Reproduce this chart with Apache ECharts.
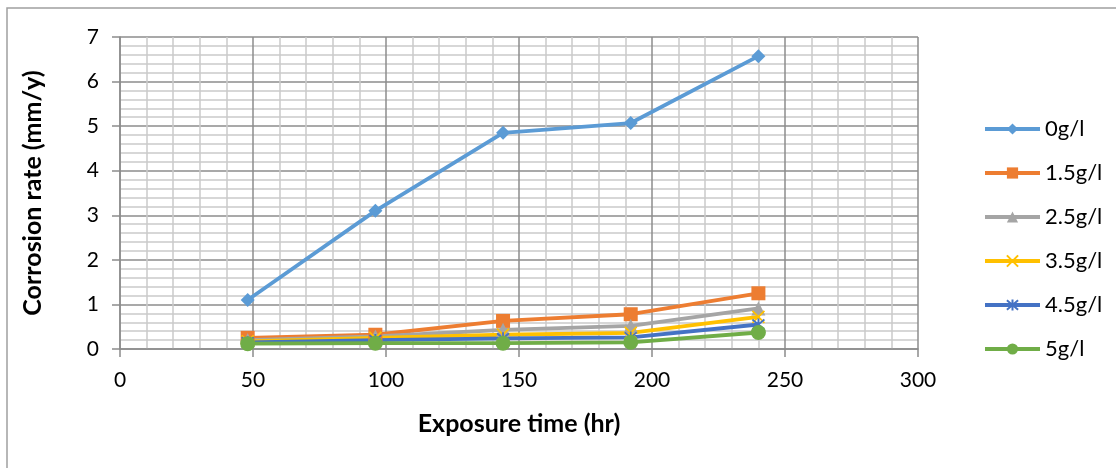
<!DOCTYPE html>
<html>
<head>
<meta charset="utf-8">
<script src="https://cdn.jsdelivr.net/npm/echarts@6/dist/echarts.min.js"></script>
<style>
html,body{margin:0;padding:0;background:#fff;}
#chart{width:1116px;height:468px;}
</style>
</head>
<body>
<div id="chart"></div>
<script>
var times = [48, 96, 144, 192, 240];
var seriesNames = ['0g/l', '1.5g/l', '2.5g/l', '3.5g/l', '4.5g/l', '5g/l'];
var s0 = [1.1, 3.1, 4.85, 5.07, 6.57];
var s15 = [0.25, 0.32, 0.63, 0.78, 1.25];
var s25 = [0.2, 0.28, 0.43, 0.52, 0.91];
var s35 = [0.17, 0.25, 0.32, 0.36, 0.72];
var s45 = [0.15, 0.2, 0.24, 0.26, 0.55];
var s5 = [0.12, 0.13, 0.13, 0.15, 0.37];
var xTicks = [0, 50, 100, 150, 200, 250, 300];
var yTicks = [0, 1, 2, 3, 4, 5, 6, 7];

var allValues = [s0, s15, s25, s35, s45, s5];
var colors = ['#5B9BD5', '#ED7D31', '#A5A5A5', '#FFC000', '#4472C4', '#70AD47'];
var symbols = [
  'diamond',
  'rect',
  'triangle',
  'path://M0,0L10,10M10,0L0,10',
  'path://M0,0L10,10M10,0L0,10M5,-1L5,11',
  'circle'
];
var symbolSizes = [14, 14, 14, 12, 12, 15];
var stroked = [false, false, false, true, true, false];

function pairs(vals) {
  return times.map(function (t, i) { return [t, vals[i]]; });
}

var series = allValues.map(function (vals, k) {
  var st = stroked[k]
    ? { color: 'rgba(0,0,0,0)', borderColor: colors[k], borderWidth: 1.8 }
    : { color: colors[k], borderWidth: 0 };
  return {
    name: seriesNames[k],
    type: 'line',
    data: pairs(vals),
    symbol: symbols[k],
    symbolSize: symbolSizes[k],
    showAllSymbol: true,
    lineStyle: { color: colors[k], width: 3.8 },
    itemStyle: st,
    emphasis: { disabled: true },
    animation: false
  };
});

var font = 'Lato, "Liberation Sans", sans-serif';
var chart = echarts.init(document.getElementById('chart'));
chart.setOption({
  animation: false,
  backgroundColor: '#ffffff',
  graphic: [{
    type: 'rect',
    shape: { x: 7, y: 8, width: 1130, height: 480 },
    style: { fill: 'none', stroke: '#a0a0a0', lineWidth: 1.5 },
    silent: true
  }],
  grid: { left: 120, right: 198, top: 37, bottom: 119 },
  legend: {
    orient: 'vertical',
    left: 978,
    top: 113,
    itemWidth: 55,
    itemHeight: 14,
    itemGap: 22,
    lineStyle: { width: 4 },
    textStyle: { fontFamily: font, fontSize: 22, color: '#000' },
    data: seriesNames
  },
  xAxis: {
    type: 'value',
    min: xTicks[0],
    max: xTicks[xTicks.length - 1],
    interval: 50,
    name: 'Exposure time (hr)',
    nameLocation: 'middle',
    nameGap: 62,
    nameTextStyle: { fontFamily: font, fontSize: 25, fontWeight: 'bold', color: '#000' },
    axisLine: { show: true, lineStyle: { color: '#8c8c8c', width: 1.5 } },
    axisTick: { show: true, length: 8, lineStyle: { color: '#8c8c8c', width: 1.5 } },
    axisLabel: { fontFamily: font, fontSize: 21, color: '#000', margin: 21 },
    splitLine: { show: true, lineStyle: { color: '#8c8c8c', width: 1.5 } },
    minorTick: { show: false, splitNumber: 5 },
    minorSplitLine: { show: true, lineStyle: { color: '#cacaca', width: 1.5 } }
  },
  yAxis: {
    type: 'value',
    min: yTicks[0],
    max: yTicks[yTicks.length - 1],
    interval: 1,
    name: 'Corrosion rate (mm/y)',
    nameLocation: 'middle',
    nameGap: 75,
    nameTextStyle: { fontFamily: font, fontSize: 25, fontWeight: 'bold', color: '#000' },
    axisLine: { show: true, lineStyle: { color: '#8c8c8c', width: 1.5 } },
    axisTick: { show: true, length: 8, lineStyle: { color: '#8c8c8c', width: 1.5 } },
    axisLabel: { fontFamily: font, fontSize: 21, color: '#000', margin: 21 },
    splitLine: { show: true, lineStyle: { color: '#8c8c8c', width: 1.5 } },
    minorTick: { show: false, splitNumber: 5 },
    minorSplitLine: { show: true, lineStyle: { color: '#cacaca', width: 1.5 } }
  },
  series: series
});
</script>
</body>
</html>
